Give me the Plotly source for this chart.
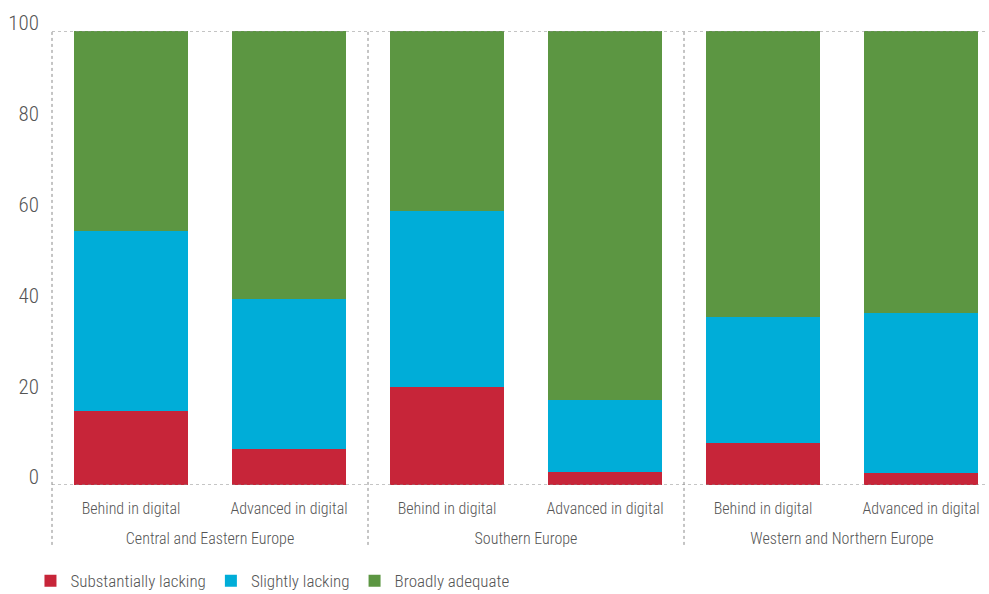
import plotly.graph_objects as go

regions = ["Central and Eastern Europe", "Central and Eastern Europe",
           "Southern Europe", "Southern Europe",
           "Western and Northern Europe", "Western and Northern Europe"]
digital = ["Behind in digital", "Advanced in digital"] * 3

substantially_lacking = [16.3, 7.9, 21.6, 2.9, 9.2, 2.6]
slightly_lacking = [39.6, 33.1, 38.8, 15.9, 27.7, 35.3]
broadly_adequate = [44.1, 59.0, 39.6, 81.2, 63.1, 62.1]

y_ticks = [0, 20, 40, 60, 80, 100]

FONT = "Roboto Condensed, Arial Narrow, sans-serif"
TEXT = "#555555"
DOT = "#8a8a8a"

# an empty second line under each inner label pushes the group labels down
inner = [d + "<br>&nbsp;" for d in digital]

fig = go.Figure()
for name, vals, col in [
    ("Substantially lacking", substantially_lacking, "#C72539"),
    ("Slightly lacking", slightly_lacking, "#00ADD8"),
    ("Broadly adequate", broadly_adequate, "#5C9642"),
]:
    fig.add_trace(go.Bar(x=[regions, inner], y=vals, name=name,
                         marker=dict(color=col, line=dict(width=0))))

x_range = [-0.5, 5.424]


def to_paper(v):
    return (v - x_range[0]) / (x_range[1] - x_range[0])


# dotted frame and group separators
shapes = [
    dict(type="line", xref="paper", yref="y", x0=0, x1=1, y0=100, y1=100),
    dict(type="line", xref="paper", yref="y", x0=0, x1=1, y0=0, y1=0),
]
for xv in [-0.5, 1.5, 3.5]:
    shapes.append(dict(type="line", xref="paper", yref="paper",
                       x0=to_paper(xv), x1=to_paper(xv), y0=-0.132, y1=1))
for s in shapes:
    s["line"] = dict(color=DOT, width=1, dash="dot")
    s["layer"] = "above"

fig.update_layout(
    barmode="stack",
    bargap=0.28,
    width=989, height=594,
    margin=dict(l=52, r=1, t=31, b=109, autoexpand=False),
    plot_bgcolor="white", paper_bgcolor="white",
    font=dict(family=FONT, size=16, color=TEXT, weight=300),
    shapes=shapes,
    showlegend=True,
    legend=dict(orientation="h", x=-0.023, y=-0.172, xanchor="left", yanchor="top",
                font=dict(size=17, color=TEXT, weight=300), traceorder="normal"),
    xaxis=dict(range=x_range, showgrid=False, showline=False, zeroline=False,
               showdividers=False, ticks="", ticklabelstandoff=12, automargin=False,
               tickfont=dict(size=16, color=TEXT, weight=300)),
    yaxis=dict(range=[0, 100], tickvals=y_ticks, showgrid=False, showline=False,
               zeroline=False, ticks="", ticklabelstandoff=12, ticklabelshift=-8,
               automargin=False, tickfont=dict(size=21, color=TEXT, weight=300)),
)

fig.write_html("out.html", config={"displayModeBar": False},
               post_script="document.body.style.margin = '0';")
